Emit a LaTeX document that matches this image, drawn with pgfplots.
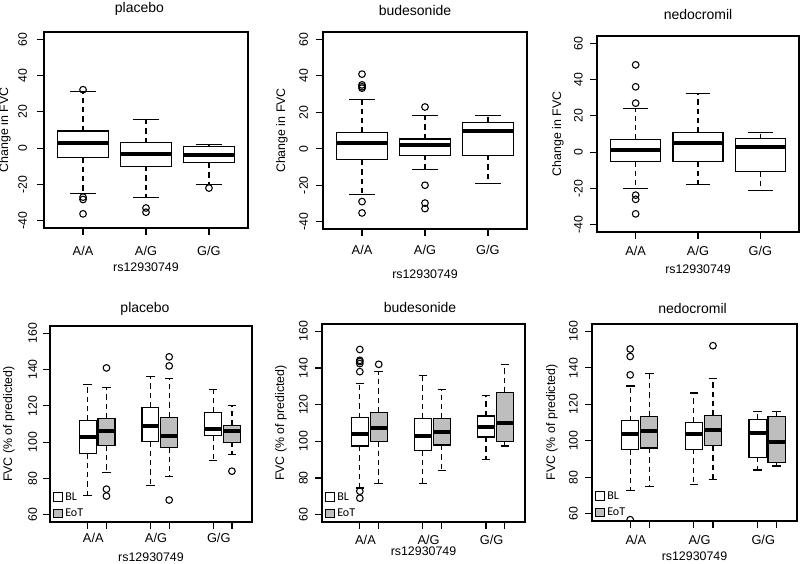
\documentclass[border=0pt]{standalone}
\usepackage{fontspec}
\setmainfont{Liberation Sans}
\newfontfamily\legfont{Carlito}
\usepackage{pgfplots}
\pgfplotsset{compat=1.18}
\usepgfplotslibrary{statistics}
\definecolor{rgray}{RGB}{190,190,190}
\newcommand{\fs}[1]{\fontsize{#1}{#1}\selectfont}

\pgfplotsset{
  rbox/.style={
    scale only axis, enlargelimits=false,
    axis line style={line width=0.9pt},
    every tick/.style={line width=0.9pt, black},
    tick align=outside, tick pos=left,
    major tick length=5pt,
    clip marker paths=true,
    xticklabel style={font=\fs{9.6}, anchor=north, inner sep=0pt},
    yticklabel style={font=\fs{9.2}, rotate=90, anchor=south, inner sep=0pt},
    every axis title/.style={font=\fs{10.5}, anchor=base, at={(axis description cs:0.5,1)}},
    boxplot/draw direction=y,
    boxplot/every median/.style={line width=3pt},
    boxplot/draw/lower whisker/.code={%
      \draw[dash pattern=on 4pt off 3pt] (boxplot cs:\pgfplotsboxplotvalue{lower quartile}) -- (boxplot cs:\pgfplotsboxplotvalue{lower whisker});
      \draw[solid] (boxplot whisker cs:\pgfplotsboxplotvalue{lower whisker},0) -- (boxplot whisker cs:\pgfplotsboxplotvalue{lower whisker},1);
    },
    boxplot/draw/upper whisker/.code={%
      \draw[dash pattern=on 4pt off 3pt] (boxplot cs:\pgfplotsboxplotvalue{upper quartile}) -- (boxplot cs:\pgfplotsboxplotvalue{upper whisker});
      \draw[solid] (boxplot whisker cs:\pgfplotsboxplotvalue{upper whisker},0) -- (boxplot whisker cs:\pgfplotsboxplotvalue{upper whisker},1);
    },
  },
  rtop/.style={
    rbox,
    xmin=0.38, xmax=3.62, ymin=-44, ymax=64,
    xtick={1,2,3}, xticklabels={A/A,A/G,G/G},
    ytick={-40,-20,0,20,40,60}, yticklabels={-40,-20,0,20,40,60},
    ylabel={Change in FVC}, xlabel={rs12930749},
    boxplot/box extend=0.8, boxplot/whisker extend=0.4,
  },
  rbot/.style={
    rbox,
    xmin=0.25, xmax=3.47, ymin=56, ymax=164,
    xtick={0.85,1.15,1.85,2.15,2.85,3.15}, xticklabels={,,,,,},
    extra x ticks={0.94,1.94,2.94}, extra x tick labels={A/A,A/G,G/G},
    extra x tick style={tick style={draw=none}},
    ytick={60,80,100,120,140,160}, yticklabels={60,80,100,120,140,160},
    ylabel={FVC (\% of predicted)}, xlabel={rs12930749},
    boxplot/box extend=0.27, boxplot/whisker extend=0.135,
    legend image code/.code={\draw[##1] (0pt,-3.3pt) rectangle (6.6pt,3.3pt);},
    legend style={at={(axis description cs:0,0)}, anchor=south west, xshift=2pt, yshift=0.5pt,
      draw=none, fill=none, font=\legfont\fs{9}, row sep=1pt, inner sep=0pt},
    legend cell align=left,
  },
  bp/.style={forget plot, draw=black, line width=0.9pt, mark=o, mark size=2.5pt, mark options={solid, line width=0.8pt}},
  bl/.style={bp, fill=white},
  eot/.style={bp, fill=rgray},
}

\begin{document}
\begin{tikzpicture}
\useasboundingbox (0,0) rectangle (600pt,423pt);

% ---------- top-left: placebo ----------
\begin{axis}[rtop, at={(33pt,252pt)}, anchor=south west, width=153pt, height=147pt,
  title={placebo}, title style={yshift=14.8pt, xshift=-4.9pt},
  xticklabel shift=8.5pt, yticklabel shift=7.5pt,
  every axis y label/.style={at={(axis description cs:-0.162,0.5)}, rotate=90, anchor=south, inner sep=0pt, font=\fs{9.3}},
  every axis x label/.style={at={(axis description cs:0.5,0)}, anchor=north, yshift=-26.25pt, inner sep=0pt, font=\fs{9.3}}]
\addplot[bl, boxplot prepared={draw position=1, lower whisker=-24.8, lower quartile=-5.0, median=2.9, upper quartile=9.4, upper whisker=31.2}]
  table[row sep=\\, y index=0] {y\\ 32.2\\ -27\\ -28.3\\ -36.2\\};
\addplot[bl, boxplot prepared={draw position=2, lower whisker=-27, lower quartile=-9.9, median=-3.1, upper quartile=2.9, upper whisker=16}]
  table[row sep=\\, y index=0] {y\\ -33\\ -35.3\\};
\addplot[bl, boxplot prepared={draw position=3, lower whisker=-20, lower quartile=-8.1, median=-3.9, upper quartile=1.1, upper whisker=2.0}]
  table[row sep=\\, y index=0] {y\\ -22\\};
\end{axis}

% ---------- top-middle: budesonide ----------
\begin{axis}[rtop, at={(242.25pt,251.25pt)}, anchor=south west, width=153pt, height=147.75pt,
  title={budesonide}, title style={yshift=12.5pt, xshift=-7.5pt},
  xticklabel shift=7pt, yticklabel shift=6pt,
  every axis y label/.style={at={(axis description cs:-0.172,0.5)}, rotate=90, anchor=south, inner sep=0pt, font=\fs{9.3}},
  every axis x label/.style={at={(axis description cs:0.5,0)}, anchor=north, yshift=-30.75pt, inner sep=0pt, font=\fs{9.3}}]
\addplot[bl, boxplot prepared={draw position=1, lower whisker=-25, lower quartile=-6.1, median=3.1, upper quartile=8.8, upper whisker=26.8}]
  table[row sep=\\, y index=0] {y\\ 40.9\\ 35\\ 34\\ 33.2\\ -29\\ -35.2\\};
\addplot[bl, boxplot prepared={draw position=2, lower whisker=-11.2, lower quartile=-3.5, median=2.0, upper quartile=5.3, upper whisker=18}]
  table[row sep=\\, y index=0] {y\\ 22.9\\ -20\\ -29.8\\ -32.8\\};
\addplot[bl, boxplot prepared={draw position=3, lower whisker=-19, lower quartile=-3.5, median=9.5, upper quartile=14.3, upper whisker=18}]
  table[row sep=\\, y index=0] {y\\};
\end{axis}

% ---------- top-right: nedocromil ----------
\begin{axis}[rtop, at={(447.75pt,249pt)}, anchor=south west, width=151.5pt, height=147pt,
  title={nedocromil}, title style={yshift=12pt, xshift=0pt},
  xticklabel shift=5.5pt, yticklabel shift=5.5pt,
  every axis y label/.style={at={(axis description cs:-0.163,0.5)}, rotate=90, anchor=south, inner sep=0pt, font=\fs{9.3}},
  every axis x label/.style={at={(axis description cs:0.5,0)}, anchor=north, yshift=-24.75pt, inner sep=0pt, font=\fs{9.3}}]
\addplot[bl, boxplot prepared={draw position=1, lower whisker=-20, lower quartile=-5, median=1.1, upper quartile=6.8, upper whisker=23.9}]
  table[row sep=\\, y index=0] {y\\ 48.1\\ 36\\ 27\\ -23.7\\ -26\\ -34\\};
\addplot[bl, boxplot prepared={draw position=2, lower whisker=-18, lower quartile=-5, median=5.1, upper quartile=10.8, upper whisker=32.1}]
  table[row sep=\\, y index=0] {y\\};
\addplot[bl, boxplot prepared={draw position=3, lower whisker=-21.1, lower quartile=-10.5, median=2.6, upper quartile=7.3, upper whisker=11}]
  table[row sep=\\, y index=0] {y\\};
\end{axis}

% ---------- bottom-left: placebo ----------
\begin{axis}[rbot, at={(37.5pt,31.5pt)}, anchor=south west, width=151.5pt, height=147pt,
  title={placebo}, title style={yshift=10.3pt, xshift=-4.5pt},
  xticklabel shift=3.25pt, yticklabel shift=4.5pt,
  every axis y label/.style={at={(axis description cs:-0.173,0.5)}, rotate=90, anchor=south, inner sep=0pt, font=\fs{9.3}},
  every axis x label/.style={at={(axis description cs:0.5,0)}, anchor=north, yshift=-23.25pt, inner sep=0pt, font=\fs{9.3}}]
\addlegendimage{draw=black, line width=0.7pt, fill=white}
\addlegendentry{BL}
\addlegendimage{draw=black, line width=0.7pt, fill=rgray}
\addlegendentry{EoT}
\addplot[bl, boxplot prepared={draw position=0.85, lower whisker=70.8, lower quartile=93.9, median=103.1, upper quartile=111.9, upper whisker=131.9}]
  table[row sep=\\, y index=0] {y\\};
\addplot[eot, boxplot prepared={draw position=1.15, lower whisker=83.1, lower quartile=98, median=106.2, upper quartile=113.2, upper whisker=129.9}]
  table[row sep=\\, y index=0] {y\\ 140.9\\ 74.1\\ 70.3\\};
\addplot[bl, boxplot prepared={draw position=1.85, lower whisker=76.1, lower quartile=100.4, median=108.8, upper quartile=119.1, upper whisker=136}]
  table[row sep=\\, y index=0] {y\\};
\addplot[eot, boxplot prepared={draw position=2.15, lower whisker=81.1, lower quartile=97.1, median=103.3, upper quartile=113.8, upper whisker=134.9}]
  table[row sep=\\, y index=0] {y\\ 147\\ 142\\ 68.1\\};
\addplot[bl, boxplot prepared={draw position=2.85, lower whisker=90.1, lower quartile=103.7, median=107.2, upper quartile=116.5, upper whisker=129.2}]
  table[row sep=\\, y index=0] {y\\};
\addplot[eot, boxplot prepared={draw position=3.15, lower whisker=93.2, lower quartile=100, median=106.2, upper quartile=109, upper whisker=120}]
  table[row sep=\\, y index=0] {y\\ 84\\};
\end{axis}

% ---------- bottom-middle: budesonide ----------
\begin{axis}[rbot, at={(241.5pt,31.5pt)}, anchor=south west, width=152.25pt, height=148.5pt,
  title={budesonide}, title style={yshift=8.8pt, xshift=-2.6pt},
  xticklabel shift=4.75pt, yticklabel shift=5.5pt,
  every axis y label/.style={at={(axis description cs:-0.172,0.5)}, rotate=90, anchor=south, inner sep=0pt, font=\fs{9.3}},
  every axis x label/.style={at={(axis description cs:0.5,0)}, anchor=north, yshift=-18.75pt, inner sep=0pt, font=\fs{9.3}}]
\addlegendimage{draw=black, line width=0.7pt, fill=white}
\addlegendentry{BL}
\addlegendimage{draw=black, line width=0.7pt, fill=rgray}
\addlegendentry{EoT}
\addplot[bl, boxplot prepared={draw position=0.85, lower whisker=74.5, lower quartile=97.4, median=104, upper quartile=112.8, upper whisker=131.7}]
  table[row sep=\\, y index=0] {y\\ 150.1\\ 144.2\\ 143.5\\ 142.4\\ 138\\ 72.8\\ 69\\};
\addplot[eot, boxplot prepared={draw position=1.15, lower whisker=77.2, lower quartile=100, median=107.2, upper quartile=115.8, upper whisker=138.3}]
  table[row sep=\\, y index=0] {y\\ 142\\};
\addplot[bl, boxplot prepared={draw position=1.85, lower whisker=77.2, lower quartile=95, median=103.1, upper quartile=112.3, upper whisker=136}]
  table[row sep=\\, y index=0] {y\\};
\addplot[eot, boxplot prepared={draw position=2.15, lower whisker=84, lower quartile=98, median=105.1, upper quartile=112.3, upper whisker=128.3}]
  table[row sep=\\, y index=0] {y\\};
\addplot[bl, boxplot prepared={draw position=2.85, lower whisker=90.1, lower quartile=102.4, median=107.9, upper quartile=113.8, upper whisker=124.8}]
  table[row sep=\\, y index=0] {y\\};
\addplot[eot, boxplot prepared={draw position=3.15, lower whisker=97.4, lower quartile=100, median=110.1, upper quartile=126.8, upper whisker=142}]
  table[row sep=\\, y index=0] {y\\};
\end{axis}

% ---------- bottom-right: nedocromil ----------
\begin{axis}[rbot, at={(444pt,32.25pt)}, anchor=south west, width=153.75pt, height=147.75pt,
  title={nedocromil}, title style={yshift=8pt, xshift=-1.5pt},
  xticklabel shift=5.5pt, yticklabel shift=5.5pt,
  every axis y label/.style={at={(axis description cs:-0.166,0.5)}, rotate=90, anchor=south, inner sep=0pt, font=\fs{9.3}},
  every axis x label/.style={at={(axis description cs:0.5,0)}, anchor=north, yshift=-23.25pt, inner sep=0pt, font=\fs{9.3}}]
\addlegendimage{draw=black, line width=0.7pt, fill=white}
\addlegendentry{BL}
\addlegendimage{draw=black, line width=0.7pt, fill=rgray}
\addlegendentry{EoT}
\addplot[bl, boxplot prepared={draw position=0.85, lower whisker=72.9, lower quartile=95, median=103.7, upper quartile=110.9, upper whisker=130}]
  table[row sep=\\, y index=0] {y\\ 150.3\\ 146.2\\ 136.1\\ 56.7\\};
\addplot[eot, boxplot prepared={draw position=1.15, lower whisker=74.8, lower quartile=96, median=105.2, upper quartile=113.3, upper whisker=137}]
  table[row sep=\\, y index=0] {y\\};
\addplot[bl, boxplot prepared={draw position=1.85, lower whisker=76.2, lower quartile=95.4, median=103.7, upper quartile=110.1, upper whisker=126.2}]
  table[row sep=\\, y index=0] {y\\};
\addplot[eot, boxplot prepared={draw position=2.15, lower whisker=78.8, lower quartile=97.2, median=105.9, upper quartile=113.8, upper whisker=134.3}]
  table[row sep=\\, y index=0] {y\\ 152.1\\};
\addplot[bl, boxplot prepared={draw position=2.85, lower whisker=84, lower quartile=91, median=104.2, upper quartile=111.6, upper whisker=116.2}]
  table[row sep=\\, y index=0] {y\\};
\addplot[eot, boxplot prepared={draw position=3.15, lower whisker=86.2, lower quartile=88, median=99.1, upper quartile=113.3, upper whisker=116.2}]
  table[row sep=\\, y index=0] {y\\};
\end{axis}
\end{tikzpicture}
\end{document}
